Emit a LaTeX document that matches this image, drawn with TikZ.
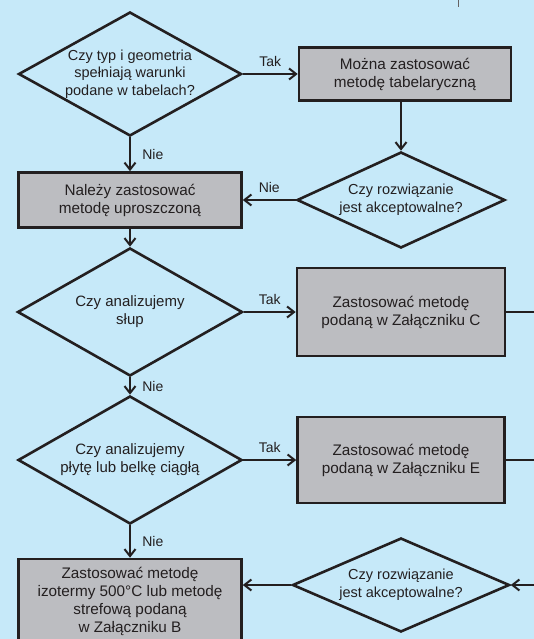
\documentclass[tikz,border=0pt]{standalone}
\usepackage{fontspec}
\setmainfont{Liberation Sans}
\usepackage{tikz}
\usetikzlibrary{positioning}
\usetikzlibrary{shapes,shapes.geometric,arrows.meta}
\definecolor{bgblue}{HTML}{C6E9F9}
\definecolor{boxgray}{HTML}{BCBDC1}
\definecolor{ink}{HTML}{231F20}
\tikzstyle{novertex} = [draw=none, fill=none, text centered, text=ink, font=\fontsize{14}{16}\selectfont]
\tikzstyle{question} = [diamond, draw=ink, line width=2.6pt, inner sep=0pt, align=center, text=ink, font=\fontsize{15}{18}\selectfont]
\tikzstyle{method} = [rectangle, draw=ink, fill=boxgray, line width=2.6pt, align=center, text=ink, font=\fontsize{15.3}{18}\selectfont]
\tikzstyle{flow} = [draw=ink, line width=2pt, -{Straight Barb[length=7pt,width=11pt,line width=2pt]}]
\tikzstyle{stub} = [draw=ink, line width=2pt]

\begin{document}
\begin{tikzpicture}[x=1pt, y=1pt, auto]
	\fill[bgblue] (0,0) rectangle (534,-639);
	\useasboundingbox (0,0) rectangle (534,-639);
	\clip (0,0) rectangle (534,-639);
	% place nodes
	\node [question, aspect=1.8, minimum width=223, minimum height=124, font=\fontsize{14.5}{17.7}\selectfont] at (130,-74) (D1)
		{Czy typ i geometria\\spełniają warunki\\podane w tabelach?};
	\node [method, right of=D1, node distance=275, minimum width=212, minimum height=53] (B1)
		{Można zastosować\\metodę tabelaryczną};
	\node [method, below of=D1, node distance=126, minimum width=223, minimum height=55] (B2)
		{Należy zastosować\\metodę uproszczoną};
	\node [question, aspect=2.17, right of=B2, node distance=271, minimum width=208, minimum height=96, font=\fontsize{14.5}{17.7}\selectfont] (D2)
		{Czy rozwiązanie\\jest akceptowalne?};
	\node [question, aspect=1.76, below of=B2, node distance=112, minimum width=225, minimum height=128] (D3)
		{Czy analizujemy\\słup};
	\node [method, right of=D3, node distance=271, minimum width=208, minimum height=88] (BC)
		{Zastosować metodę\\podaną w Załączniku C};
	\node [question, aspect=1.75, below of=D3, node distance=148, minimum width=224, minimum height=128] (D4)
		{Czy analizujemy\\płytę lub belkę ciągłą};
	\node [method, right of=D4, node distance=271, minimum width=207, minimum height=86] (BE)
		{Zastosować metodę\\podaną w Załączniku E};
	\node [method, below of=D4, node distance=141.5, minimum width=223, minimum height=85] (BB)
		{Zastosować metodę\\izotermy 500°C lub metodę\\strefową podaną\\w Załączniku B};
	\node [question, aspect=2.31, below of=BE, node distance=125, minimum width=217, minimum height=94, font=\fontsize{14.5}{17.7}\selectfont] (D5)
		{Czy rozwiązanie\\jest akceptowalne?};
	\coordinate [right of=BC, node distance=140] (C_out);
	\coordinate [right of=BE, node distance=140] (E_out);
	\coordinate [right of=D5, node distance=140] (D5_in);
	\coordinate (T1) at (458.5,2);
	\coordinate (T2) at (458.5,-7);

	% draw edges
	\path [flow] (D1) -- node [novertex, above=3pt] (L1) {Tak} (B1);
	\path [flow] (D1) -- node [novertex, right=8pt] (L2) {Nie} (B2);
	\path [flow] (D2.north |- B1.south) -- (D2.north);
	\path [flow] (D2) -- node [novertex, above=3pt, swap] (L3) {Nie} (B2);
	\path [flow] (B2) -- (D3);
	\path [flow] (D3) -- node [novertex, above=3pt] (L4) {Tak} (BC);
	\path [flow] (D3) -- node [novertex, right=8pt] (L5) {Nie} (D4);
	\path [flow] (D4) -- node [novertex, above=3pt] (L6) {Tak} (BE);
	\path [flow] (D4) -- node [novertex, right=8pt] (L7) {Nie} (BB);
	\path [flow] (D5) -- (BB.east |- D5);
	\path [flow] (D5_in) -- (D5);
	\path [stub] (BC) -- (C_out);
	\path [stub] (BE) -- (E_out);
	\draw [line width=1.5pt, draw=ink!70] (T1) -- (T2);
\end{tikzpicture}
\end{document}
